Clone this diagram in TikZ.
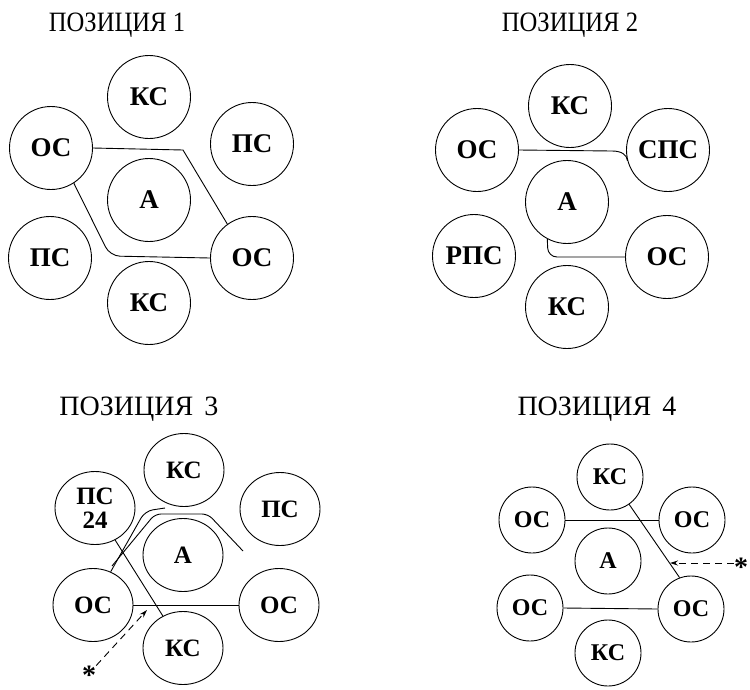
\documentclass[tikz,border=0pt]{standalone}
\usepackage{fontspec}
\setmainfont{Liberation Serif}
\usetikzlibrary{shapes.geometric,arrows.meta}
\begin{document}
\begin{tikzpicture}[x=1pt,y=-1pt,
  cA/.style={draw, line width=0.9pt, circle, minimum size=83pt, inner sep=0pt, font=\fontsize{27}{27}\selectfont\bfseries},
  cB/.style={draw, line width=0.9pt, ellipse, minimum width=80pt, minimum height=73pt, inner sep=0pt, font=\fontsize{25}{25}\selectfont\bfseries},
  cC/.style={draw, line width=0.9pt, circle, minimum size=66pt, inner sep=0pt, font=\fontsize{24}{24}\selectfont\bfseries},
  ttl/.style={font=\fontsize{28}{28}\selectfont, inner sep=0pt},
  link/.style={line width=0.9pt},
  dlink/.style={line width=0.9pt, dash pattern=on 7pt off 5pt, -{Stealth[length=8pt,width=5pt]}},
  star/.style={font=\fontsize{28}{28}\selectfont\bfseries, inner sep=0pt},
  ]
\path[use as bounding box] (0,0) rectangle (750,689);

% ---------- Position 1
\node[ttl, xscale=0.88] (t1) at (117,25) {ПОЗИЦИЯ 1};
\node[cA] (k1t) at (149,97) {КС};
\node[cA] (o1l) at (51,148) {ОС};
\node[cA] (p1r) at (252,144) {ПС};
\node[cA] (a1) at (149,200) {А};
\node[cA] (p1l) at (50,258) {ПС};
\node[cA] (o1r) at (252,258) {ОС};
\node[cA] (k1b) at (149,303) {КС};
\draw[link] (o1l.east) -- (183,150) -- (o1r.126);
\draw[link, rounded corners=10pt] (o1l.-57) -- (110,256) -- (o1r.west);

% ---------- Position 2
\node[ttl, xscale=0.88] (t2) at (570,25) {ПОЗИЦИЯ 2};
\node[cA] (k2t) at (570,106) {КС};
\node[cA] (o2l) at (477,150) {ОС};
\node[cA] (s2) at (668,150) {СПС};
\node[cA] (a2) at (567,202) {А};
\node[cA] (r2) at (474,256) {РПС};
\node[cA] (o2r) at (667,257) {ОС};
\node[cA] (k2b) at (567,307) {КС};
\draw[link] (o2l.east) -- (612,151) .. controls (622,151) and (627,155) .. (s2.195);
\draw[link, rounded corners=9pt] (a2.-118) -- (548,257) -- (o2r.west);

% ---------- Position 3
\node[ttl] (t3) at (139,409) {ПОЗИЦИЯ\hspace{0.4em}3};
\node[cB] (k3t) at (184,470) {КС};
\node[cB, align=center, font=\fontsize{25}{24}\selectfont\bfseries] (p3l) at (95,508) {ПС\\24};
\node[cB] (p3r) at (280,509) {ПС};
\node[cB] (a3) at (183,555) {А};
\node[cB] (o3l) at (93,605) {ОС};
\node[cB] (o3r) at (279,605) {ОС};
\node[cB] (k3b) at (183,648) {КС};
\draw[link, rounded corners=8pt] (o3l.62) -- (145,511) -- (165,508);
\draw[link, rounded corners=6pt] (112,566) -- (155,514) -- (208,514) -- (243,551);
\draw[link] (p3l) -- (k3b);
\draw[link] (o3l.east) -- (o3r.west);
\node[star] (s3) at (89,675) {*};
\coordinate (h3) at (147,610);
\draw[dlink] (s3.north east) -- (h3);

% ---------- Position 4
\node[ttl] (t4) at (597,409) {ПОЗИЦИЯ\hspace{0.4em}4};
\node[cC] (k4t) at (610,477) {КС};
\node[cC] (o4l) at (532,520) {ОС};
\node[cC] (o4r) at (692,520) {ОС};
\node[cC] (a4) at (608,561) {А};
\node[cC] (o4bl) at (530,608) {ОС};
\node[cC] (o4br) at (691,609) {ОС};
\node[cC] (k4b) at (608,653) {КС};
\draw[link] (o4l.east) -- (o4r.west);
\draw[link] (k4t.-55) -- (o4br.110);
\draw[link] (o4bl.east) -- (o4br.west);
\node[star] (s4) at (741,567) {*};
\coordinate (h4) at (670,563);
\draw[dlink] ([yshift=4pt]s4.west) -- (h4);
\end{tikzpicture}
\end{document}
